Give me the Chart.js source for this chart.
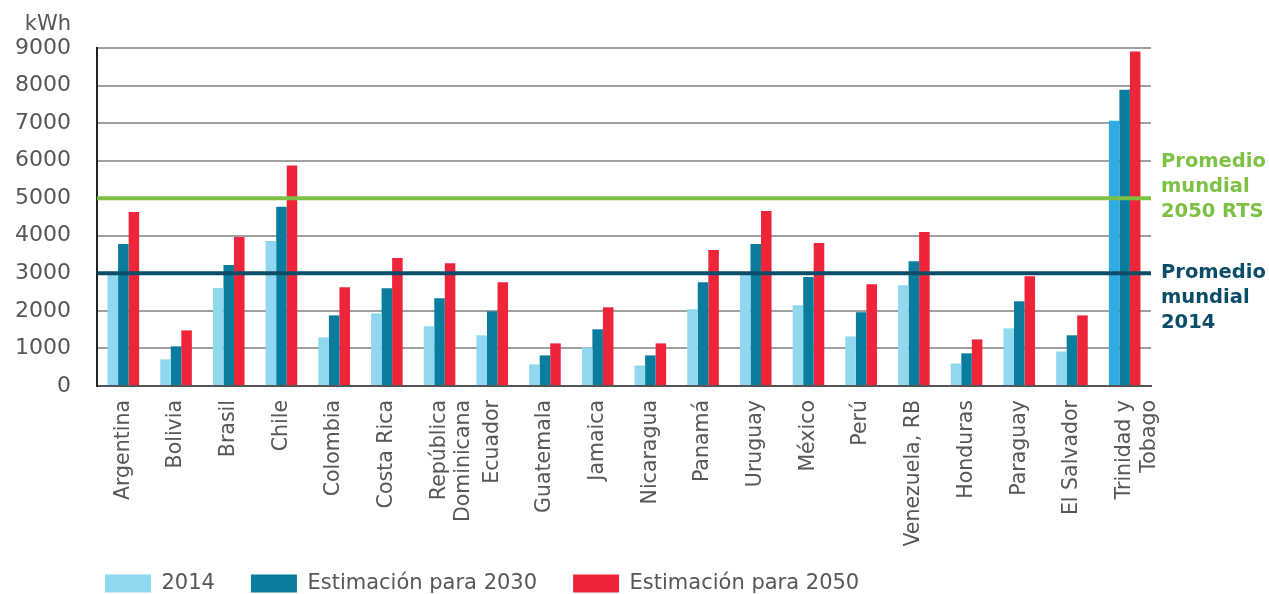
<!DOCTYPE html>
<html>
<head>
<meta charset="utf-8">
<script src="https://cdn.jsdelivr.net/npm/chart.js@4"></script>
<style>
  html, body { margin: 0; padding: 0; background: #fff; }
  #chart { display: block; }
</style>
</head>
<body>
<canvas id="chart" width="1269" height="594"></canvas>
<script>
const countries = [
  'Argentina', 'Bolivia', 'Brasil', 'Chile', 'Colombia', 'Costa Rica',
  ['República', 'Dominicana'], 'Ecuador', 'Guatemala', 'Jamaica', 'Nicaragua',
  'Panamá', 'Uruguay', 'México', 'Perú', 'Venezuela, RB', 'Honduras',
  'Paraguay', 'El Salvador', ['Trinidad y', 'Tobago'],
];
const values2014 = [2980, 710, 2610, 3860, 1295, 1935, 1590, 1350, 575, 1030, 545, 2045, 2980, 2150, 1320, 2685, 600, 1535, 920, 7065];
const values2030 = [3780, 1055, 3220, 4770, 1880, 2605, 2335, 1990, 815, 1510, 815, 2765, 3780, 2900, 1965, 3325, 870, 2255, 1350, 7890];
const values2050 = [4630, 1480, 3965, 5870, 2630, 3405, 3270, 2765, 1135, 2095, 1135, 3620, 4660, 3805, 2710, 4100, 1240, 2925, 1880, 8905];
const seriesNames = ['2014', 'Estimación para 2030', 'Estimación para 2050'];
const worldAverages = [
  { value: 5000, lines: ['Promedio', 'mundial', '2050 RTS'], color: '#7cc144', offset: -36 },
  { value: 3000, lines: ['Promedio', 'mundial', '2014'], color: '#0b4d68', offset: 0 },
];
const yMax = 9000;
const yStep = 1000;
const unitLabel = 'kWh';

const FONT = '"DejaVu Sans", sans-serif';
const GREY = '#575757';

const light2014 = countries.map((c, i) => (i === countries.length - 1 ? '#2eabe2' : '#8fd8ef'));

// reference lines + labels on the right, kWh label above the y axis
const extras = {
  id: 'extras',
  afterLayout(chart) {
    // legend starts under the plot, like the original
    if (chart.legend) {
      chart.legend.left += 59;
      chart.legend.right += 59;
      chart.legend.top -= 14;
    }
  },
  afterDatasetsDraw(chart) {
    const { ctx, chartArea, scales } = chart;
    const y = scales.y;
    ctx.save();
    worldAverages.forEach((avg) => {
      const py = y.getPixelForValue(avg.value);
      ctx.strokeStyle = avg.color;
      ctx.lineWidth = 4;
      ctx.beginPath();
      ctx.moveTo(chartArea.left, py);
      ctx.lineTo(chartArea.right, py);
      ctx.stroke();

      ctx.fillStyle = avg.color;
      ctx.font = 'bold 19.5px ' + FONT;
      ctx.textAlign = 'left';
      ctx.textBaseline = 'middle';
      avg.lines.forEach((t, k) => {
        ctx.fillText(t, chartArea.right + 10, py + avg.offset + k * 25);
      });
    });

    ctx.fillStyle = GREY;
    ctx.font = '21px ' + FONT;
    ctx.textAlign = 'right';
    ctx.textBaseline = 'middle';
    ctx.fillText(unitLabel, chartArea.left - 26, chartArea.top - 23);
    ctx.restore();
  },
};

new Chart(document.getElementById('chart'), {
  type: 'bar',
  data: {
    labels: countries,
    datasets: [
      { label: seriesNames[0], data: values2014, backgroundColor: light2014 },
      { label: seriesNames[1], data: values2030, backgroundColor: '#0a7d9f' },
      { label: seriesNames[2], data: values2050, backgroundColor: '#ee2439' },
    ],
  },
  options: {
    responsive: false,
    animation: false,
    layout: { padding: { top: 48, right: 118, left: 10, bottom: 0 } },
    datasets: {
      bar: { categoryPercentage: 0.6, barPercentage: 1.0 },
    },
    plugins: {
      tooltip: { enabled: false },
      legend: {
        position: 'bottom',
        align: 'start',
        maxHeight: 43,
        labels: {
          boxWidth: 46,
          boxHeight: 18,
          padding: 36,
          color: GREY,
          font: { family: FONT, size: 21 },
          generateLabels(chart) {
            return chart.data.datasets.map((ds, i) => ({
              text: ds.label,
              fillStyle: i === 0 ? '#8fd8ef' : ds.backgroundColor,
              strokeStyle: 'transparent',
              lineWidth: 0,
              datasetIndex: i,
              fontColor: GREY,
            }));
          },
        },
      },
    },
    scales: {
      x: {
        grid: { display: false, drawTicks: false },
        border: { color: '#555555', width: 2 },
        ticks: {
          color: GREY,
          font: { family: FONT, size: 20.5 },
          minRotation: 90,
          maxRotation: 90,
          padding: 14,
          autoSkip: false,
        },
        afterFit(scale) {
          scale.height = 165;
        },
      },
      y: {
        min: 0,
        max: yMax,
        grid: { color: '#a0a0a0', lineWidth: 2, drawTicks: false },
        border: { color: '#222222', width: 2 },
        ticks: {
          stepSize: yStep,
          color: GREY,
          padding: 26,
          font: { family: FONT, size: 22 },
          callback: (v) => String(v),
        },
        afterFit(scale) {
          scale.width = 87;
        },
      },
    },
  },
  plugins: [extras],
});
</script>
</body>
</html>
